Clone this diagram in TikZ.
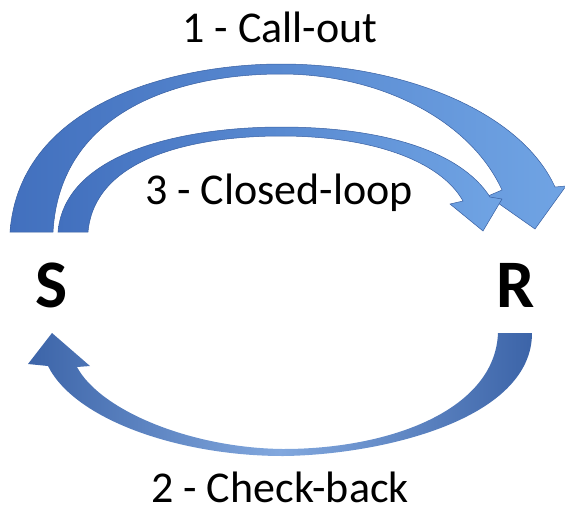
\documentclass[tikz,border=0pt]{standalone}
\usepackage{fontspec}
\setmainfont{Carlito}
\definecolor{arrowdark}{RGB}{66,112,190}
\definecolor{arrowlight}{RGB}{112,164,228}
\definecolor{checkdark}{RGB}{60,100,168}
\definecolor{checklight}{RGB}{130,168,222}
\tikzset{
  party/.style={
    anchor=base,
    inner sep=0pt,
    font=\bfseries\fontsize{68}{68}\selectfont
    },
  msgtext/.style={
    anchor=base,
    inner sep=0pt,
    font=\fontsize{44}{44}\selectfont
    },
  blockarrow/.style={
    left color=arrowdark,
    right color=arrowlight,
    draw=arrowdark!85!black,
    line width=0.5pt
    },
  backarrow/.style={
    left color=checkdark,
    right color=checkdark,
    middle color=checklight
    },
}
\begin{document}
\begin{tikzpicture}[x=1pt,y=-1pt]
\useasboundingbox (0,0) rectangle (565,515);
% sender and receiver
\node[party] (S) at (52,307) {S};
\node[party] (R) at (516,307) {R};
% 1 - call-out
\shade[blockarrow] (10,232) .. controls (20,100) and (180,64) .. (281,64)
  .. controls (400,64) and (520,110) .. (555,187) -- (566,186) -- (535,229)
  -- (488,196) -- (502,190) .. controls (470,120) and (380,74) .. (281,74)
  .. controls (180,74) and (60,110) .. (53,232) -- cycle;
% 3 - closed-loop
\shade[blockarrow] (58,232) .. controls (65,150) and (190,127) .. (281,127)
  .. controls (380,127) and (460,150) .. (490,197) -- (502,199) -- (483,231)
  -- (450,204) -- (463,201) .. controls (440,160) and (370,136) .. (281,136)
  .. controls (200,136) and (95,155) .. (88,232) -- cycle;
% 2 - check-back
\shade[backarrow] (532,333) .. controls (532,420) and (380,455) .. (283,456)
  .. controls (180,456) and (75,420) .. (48,366) -- (28,364) -- (52,333)
  -- (90,366) -- (77,367) .. controls (100,410) and (190,448) .. (283,449)
  .. controls (390,449) and (495,410) .. (498,333) -- cycle;
% labels
\node[msgtext] (callout) at (280,42) {1 - Call-out};
\node[msgtext] (closed) at (279,204) {3 - Closed-loop};
\node[msgtext] (check) at (280,502) {2 - Check-back};
\end{tikzpicture}
\end{document}
